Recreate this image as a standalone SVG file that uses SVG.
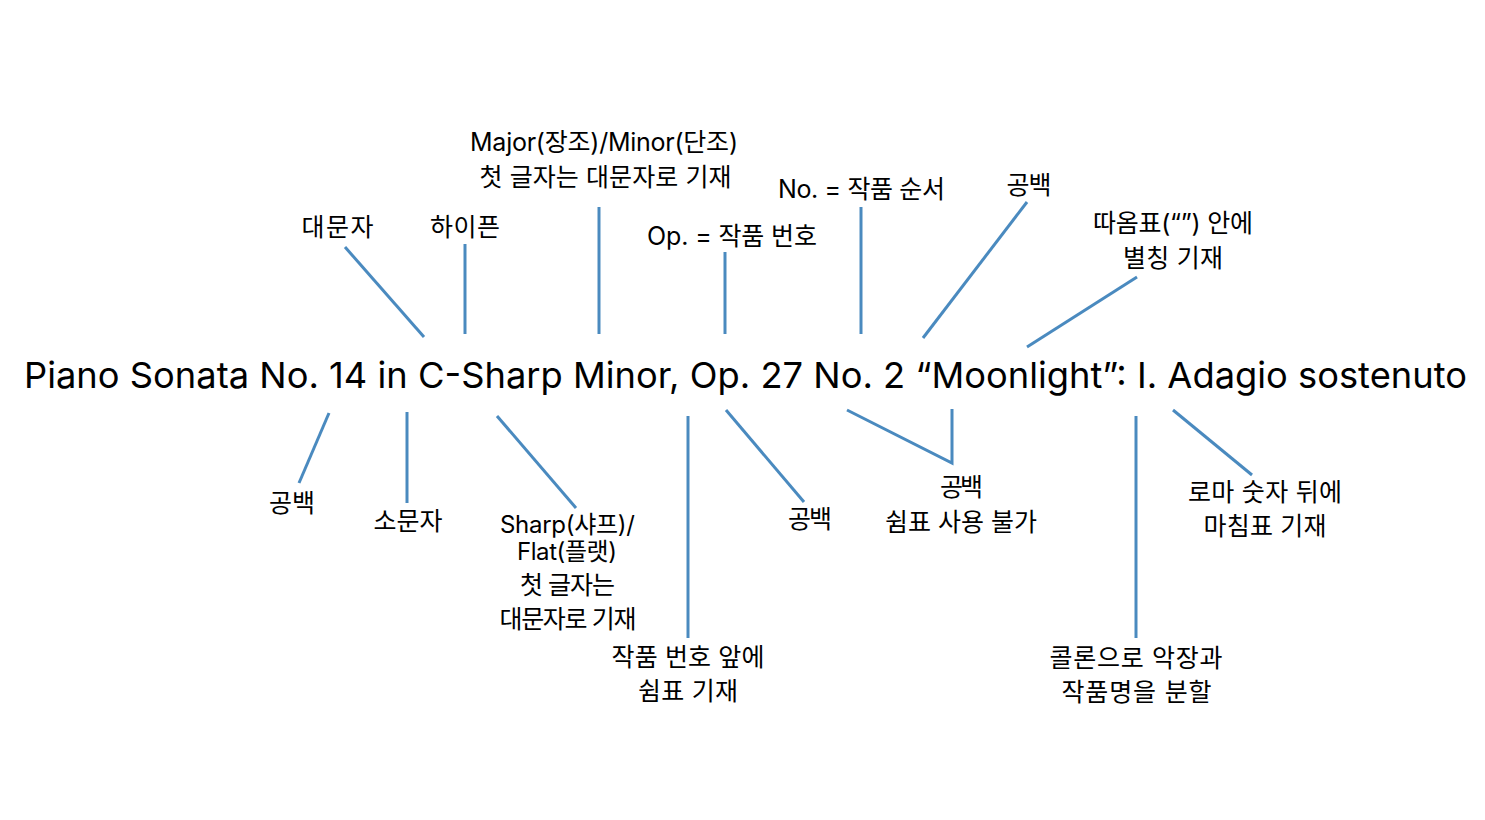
<svg xmlns="http://www.w3.org/2000/svg" width="1485" height="820" viewBox="0 0 1485 820">
<style>
.bg{fill:#ffffff}
.title{font-family:Inter,"Noto Sans","Noto Sans CJK KR",sans-serif;font-size:36px;fill:#000;text-anchor:middle}
.lbl{font-family:Inter,"Noto Sans CJK KR",sans-serif;font-size:25px;fill:#000;text-anchor:middle}
.sm{font-size:24px}
.ln{stroke:#4a8abf;stroke-width:3;fill:none;stroke-linecap:butt}
</style>
<rect class="bg" x="0" y="0" width="1485" height="820"/>
<g id="connectors">
<line class="ln" x1="345" y1="247" x2="424" y2="337"/>
<line class="ln" x1="465" y1="244" x2="465" y2="334"/>
<line class="ln" x1="599" y1="207" x2="599" y2="334"/>
<line class="ln" x1="725" y1="252" x2="725" y2="334"/>
<line class="ln" x1="861" y1="207" x2="861" y2="334"/>
<line class="ln" x1="1027" y1="202" x2="923" y2="338"/>
<line class="ln" x1="1137" y1="277" x2="1027" y2="347"/>
<line class="ln" x1="329" y1="413" x2="299" y2="483"/>
<line class="ln" x1="407" y1="412" x2="407" y2="503"/>
<line class="ln" x1="497" y1="416" x2="576" y2="508"/>
<line class="ln" x1="688" y1="416" x2="688" y2="638"/>
<line class="ln" x1="726" y1="410" x2="804" y2="502"/>
<polyline class="ln" points="847,410 952,463 952,409"/>
<line class="ln" x1="1136" y1="416" x2="1136" y2="638"/>
<line class="ln" x1="1173" y1="410" x2="1252" y2="475"/>
</g>
<g id="title"><text class="title" x="745.5" y="388" textLength="1443" lengthAdjust="spacingAndGlyphs">Piano Sonata No. 14 in C-Sharp Minor, Op. 27 No. 2 “Moonlight”: I. Adagio sostenuto</text></g>
<g id="n-capital"><text class="lbl" x="337.5" y="236" textLength="72">대문자</text></g>
<g id="n-hyphen"><text class="lbl" x="465" y="236" textLength="70">하이픈</text></g>
<g id="n-major"><text class="lbl" x="604" y="151" textLength="268">Major(장조)/Minor(단조)</text><text class="lbl" x="605.5" y="186" textLength="252">첫 글자는 대문자로 기재</text></g>
<g id="n-op"><text class="lbl" x="732" y="245" textLength="170">Op. = 작품 번호</text></g>
<g id="n-no"><text class="lbl" x="861.5" y="198" textLength="167">No. = 작품 순서</text></g>
<g id="n-space-top"><text class="lbl" x="1029" y="194" textLength="45">공백</text></g>
<g id="n-quote"><text class="lbl" x="1173" y="232" textLength="160">따옴표(“”) 안에</text><text class="lbl" x="1173" y="267" textLength="100">별칭 기재</text></g>
<g id="n-space-left"><text class="lbl" x="292" y="512" textLength="46">공백</text></g>
<g id="n-lower"><text class="lbl" x="408" y="530" textLength="69">소문자</text></g>
<g id="n-sharp"><text class="lbl sm" x="567.5" y="533" textLength="135">Sharp(샤프)/</text><text class="lbl sm" x="567" y="560" textLength="100">Flat(플랫)</text><text class="lbl" x="567.5" y="594" textLength="95">첫 글자는</text><text class="lbl" x="568" y="628" textLength="137">대문자로 기재</text></g>
<g id="n-rest-before"><text class="lbl" x="688" y="666" textLength="153">작품 번호 앞에</text><text class="lbl" x="688" y="700" textLength="100">쉼표 기재</text></g>
<g id="n-space-mid"><text class="lbl" x="810" y="528" textLength="44">공백</text></g>
<g id="n-space-nocomma"><text class="lbl" x="961.5" y="496" textLength="43">공백</text><text class="lbl" x="961" y="531" textLength="152">쉼표 사용 불가</text></g>
<g id="n-colon"><text class="lbl" x="1136" y="667" textLength="173">콜론으로 악장과</text><text class="lbl" x="1136.5" y="701" textLength="150">작품명을 분할</text></g>
<g id="n-roman"><text class="lbl" x="1265" y="501" textLength="154">로마 숫자 뒤에</text><text class="lbl" x="1265" y="535" textLength="123">마침표 기재</text></g>
</svg>
